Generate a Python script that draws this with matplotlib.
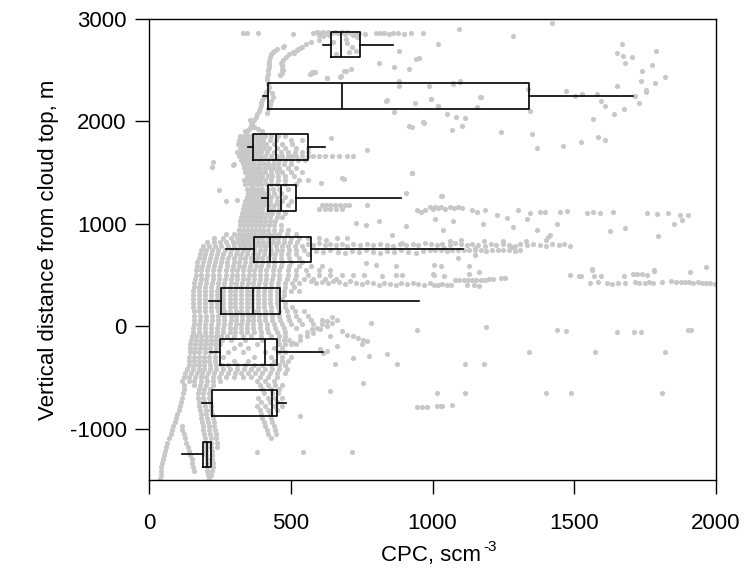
import matplotlib
matplotlib.use("Agg")
import matplotlib.pyplot as plt

plt.rcParams['font.family'] = ['Liberation Sans', 'DejaVu Sans']
plt.rcParams['axes.unicode_minus'] = False

# ---------------- box statistics per height bin (m) ----------------
bin_centers = [2750, 2250, 1750, 1250, 750, 250, -250, -750, -1250]
whisker_low = [612, 403, 348, 397, 273, 210, 215, 188, 117]
quart_low = [642, 421, 366, 421, 370, 255, 250, 223, 192]
medians = [677, 682, 447, 464, 428, 368, 410, 434, 206]
quart_high = [745, 1341, 562, 520, 572, 463, 452, 451, 219]
whisker_high = [859, 1707, 622, 890, 1109, 951, 615, 484, 219]

x_ticks = [0, 500, 1000, 1500, 2000]
y_ticks = [-1000, 0, 1000, 2000, 3000]

# ---------------- raw CPC samples (CPC, height) ----------------
row_heights = [1860, 1820, 1780, 1740, 1700, 1665, 1625, 1585, 1545, 1505, 1465, 1425,
               1385, 1345, 1305, 1265, 1225, 1185, 1145, 1105, 1065, 1025, 985, 945,
               905, 865, 825, 785, 745, 705, 665, 625, 585, 545, 505, 465, 425, 385,
               345, 305, 265, 225, 185, 145, 105, 65, 25, -15, -55, -95, -135, -175,
               -215, -255, -295, -335, -375, -415, -455, -495, -535, -575, -615, -655,
               -695, -735, -775, -815, -855, -895, -935, -975, -1015, -1055, -1095,
               -1135, -1175, -1215, -1255, -1295, -1335, -1375, -1415, -1455, -1490]
row_cpc = [
    [322, 334, 347, 360, 375, 392, 410, 432, 455, 480],
    [318, 330, 342, 356, 368, 384, 402, 425, 448, 500, 540],
    [315, 328, 340, 353, 366, 380, 396, 412, 440, 470, 505],
    [320, 332, 345, 358, 372, 388, 405, 422, 450, 480, 520, 560],
    [312, 325, 338, 350, 365, 380, 396, 415, 440, 465, 490, 515, 540, 562],
    [318, 330, 345, 360, 373, 390, 410, 430, 450, 470, 490, 505, 520, 540, 560, 580, 600, 620, 645, 670, 700, 718],
    [325, 340, 352, 368, 385, 400, 420, 440, 460, 480, 500, 525, 550],
    [300, 330, 345, 360, 372, 388, 405, 420, 438, 455, 475, 500],
    [335, 350, 362, 376, 390, 408, 425, 440, 460, 490, 520],
    [340, 352, 366, 380, 395, 410, 430, 450, 470, 500, 540],
    [345, 358, 372, 385, 400, 418, 435, 455, 480, 510],
    [335, 350, 362, 378, 392, 410, 430, 455, 480, 530, 560],
    [340, 355, 368, 382, 396, 412, 430, 450, 480, 520],
    [345, 358, 372, 386, 400, 418, 438, 460, 490],
    [350, 362, 376, 390, 405, 420, 440, 465],
    [345, 356, 370, 384, 398, 415, 432, 452, 480],
    [340, 352, 366, 380, 394, 410, 428, 450, 470, 500],
    [335, 348, 362, 376, 390, 405, 422, 440, 460, 490, 610, 625, 640, 655, 672, 690, 705],
    [330, 345, 358, 372, 386, 400, 418, 438, 460, 600, 620, 640, 660, 680],
    [328, 342, 356, 370, 384, 400, 416, 435, 455, 480],
    [325, 338, 352, 366, 380, 395, 410, 428, 450, 470],
    [322, 336, 350, 364, 378, 392, 408, 425, 445],
    [320, 334, 348, 362, 376, 390, 405, 422, 440, 465],
    [318, 332, 346, 360, 374, 388, 402, 420, 440, 465, 490],
    [270, 300, 318, 332, 346, 360, 374, 390, 405, 422, 440, 460, 485, 520],
    [230, 262, 290, 310, 325, 340, 355, 370, 385, 400, 418, 436, 455, 475, 500, 530, 560, 600],
    [205, 228, 250, 272, 295, 315, 333, 350, 367, 384, 402, 420, 438, 456, 476, 498, 522],
    [190, 210, 232, 255, 278, 300, 320, 338, 356, 374, 392, 410, 428, 448, 468, 490, 515, 540],
    [182, 200, 222, 245, 268, 290, 310, 330, 350, 370, 390, 410, 430, 450, 470, 495, 520, 545],
    [180, 198, 218, 240, 262, 285, 306, 326, 346, 366, 386, 406, 426, 446, 466, 490, 520, 560],
    [175, 195, 215, 236, 258, 280, 300, 320, 340, 360, 380, 400, 420, 440, 465, 495, 530],
    [170, 190, 210, 232, 254, 276, 298, 318, 338, 358, 378, 398, 420, 442, 470, 500, 540],
    [168, 188, 208, 230, 252, 274, 296, 316, 336, 356, 376, 396, 418, 440, 465, 495, 530, 570, 610],
    [165, 185, 205, 226, 248, 270, 292, 312, 332, 352, 372, 392, 414, 436, 460, 490, 520, 555, 600, 640],
    [165, 185, 205, 226, 248, 270, 292, 312, 332, 352, 372, 392, 414, 436, 460, 490, 520, 560, 600, 640, 680, 720, 760],
    [162, 182, 202, 224, 246, 268, 290, 310, 330, 350, 370, 390, 412, 434, 458, 485, 515, 545, 580, 620, 660],
    [160, 180, 200, 222, 244, 266, 288, 308, 328, 348, 368, 388, 410, 432, 456, 480, 505, 530],
    [158, 178, 198, 220, 242, 264, 286, 306, 326, 346, 366, 386, 408, 430, 455, 480, 510],
    [155, 175, 196, 218, 240, 262, 284, 304, 324, 344, 364, 384, 406, 428, 450, 475, 500, 530],
    [155, 175, 196, 218, 240, 262, 284, 304, 324, 344, 364, 384, 406, 428, 450, 475],
    [155, 175, 196, 218, 240, 262, 284, 304, 324, 344, 364, 384, 406, 428, 450, 470],
    [155, 175, 196, 218, 240, 262, 284, 304, 324, 344, 364, 384, 406, 428, 452, 478],
    [155, 175, 196, 218, 240, 262, 284, 304, 324, 344, 364, 384, 406, 430, 455, 480, 505],
    [158, 178, 198, 220, 242, 264, 286, 306, 326, 346, 366, 386, 408, 432, 458, 485, 515, 545],
    [160, 180, 200, 222, 244, 266, 288, 308, 328, 348, 368, 388, 410, 434, 460, 490, 520, 560],
    [160, 180, 200, 222, 244, 266, 288, 308, 328, 348, 368, 388, 410, 435, 462, 495, 530, 570, 610],
    [158, 178, 198, 220, 242, 264, 286, 306, 326, 346, 366, 390, 415, 440, 470, 500, 540, 580],
    [155, 175, 196, 218, 240, 262, 284, 304, 324, 344, 366, 390, 415, 445, 475, 520],
    [155, 175, 196, 218, 240, 262, 284, 304, 324, 346, 370, 395, 420, 450, 480],
    [150, 165, 182, 200, 218, 236, 254, 275, 300, 330, 360, 395, 430, 460, 480],
    [148, 165, 182, 200, 218, 236, 256, 290, 340, 400, 455, 475, 495],
    [145, 162, 180, 198, 216, 234, 252, 320, 380, 460, 480, 500, 520],
    [145, 162, 180, 198, 216, 236, 300, 350, 440, 470],
    [143, 160, 178, 196, 214, 234, 280, 330, 410, 460, 480],
    [140, 158, 176, 194, 212, 232, 260, 370, 430, 470, 500],
    [140, 158, 176, 194, 212, 232, 300, 350, 440, 470, 490],
    [140, 158, 176, 194, 214, 236, 258, 280, 310, 340, 370, 400, 430, 460, 480],
    [135, 155, 175, 195, 215, 238, 262, 286, 310, 335, 360, 385, 410, 435, 460, 485],
    [128, 148, 168, 188, 208, 230, 254, 278, 302, 326, 350, 375, 400, 425, 450, 480],
    [122, 142, 162, 182, 202, 224, 248, 272, 300, 330, 360, 390, 420, 450],
    [118, 140, 160, 182, 204, 226, 250, 380, 410, 440],
    [123, 158, 180, 202, 224, 390, 420, 445, 470],
    [122, 175, 195, 215, 400, 430, 460],
    [120, 172, 192, 212, 405, 435, 455],
    [118, 172, 192, 212, 385, 420, 445, 470],
    [112, 175, 195, 215, 395, 425, 450],
    [108, 178, 198, 218, 380, 410, 440, 470],
    [104, 180, 200, 220, 390, 420, 450],
    [100, 182, 202, 222, 395, 425],
    [95, 185, 205, 225, 400, 430],
    [90, 188, 208, 228, 405, 435],
    [85, 115, 190, 210, 230, 410, 440],
    [80, 118, 192, 212, 232, 415, 445],
    [76, 124, 195, 215, 235, 420, 448],
    [70, 128, 198, 218, 238, 430],
    [65, 132, 200, 220, 240],
    [60, 137, 200, 220, 240],
    [55, 141, 200, 222],
    [52, 145, 202, 222],
    [48, 150, 205, 222],
    [46, 153, 205, 224],
    [44, 156, 205, 224],
    [42, 159, 206, 222],
    [41, 208, 220],
    [40, 210],
]

top_trail = [(570, 2775), (555, 2752), (540, 2728), (525, 2705), (508, 2680), (494, 2655), (482, 2630),
             (472, 2600), (466, 2570), (470, 2540), (468, 2505), (470, 2470), (462, 2450), (441, 2690),
             (450, 2710), (476, 2740), (432, 2660), (426, 2626), (423, 2595), (424, 2560), (423, 2529),
             (420, 2500), (418, 2465), (417, 2431), (415, 2400), (420, 2365), (423, 2335), (418, 2310),
             (412, 2285), (408, 2260), (405, 2238), (400, 2210), (396, 2185), (394, 2160), (390, 2130),
             (388, 2100), (382, 2075), (376, 2045), (370, 2015), (364, 1990), (360, 1965), (356, 1940),
             (350, 1915), (345, 1895), (355, 2010), (362, 1980), (372, 1950), (384, 1925), (398, 1905),
             (340, 1905), (435, 2280), (437, 2240), (430, 2200), (425, 2160), (420, 2120), (415, 2080),
             (510, 2665), (522, 2700), (534, 2715), (474, 2730), (439, 2681), (468, 2551), (474, 2503),
             (462, 2454), (574, 2470), (586, 2486), (627, 2421), (674, 2438), (688, 2496)]

top_row = [(330, 2865), (345, 2860), (386, 2860), (509, 2858), (580, 2865), (592, 2875), (602, 2860),
           (612, 2870), (622, 2858), (632, 2872), (645, 2862), (655, 2875), (668, 2860), (680, 2870),
           (690, 2858), (700, 2872), (712, 2862), (725, 2868), (740, 2860), (762, 2858), (800, 2862),
           (815, 2860), (828, 2862), (845, 2858), (862, 2862), (878, 2860), (900, 2858), (925, 2860),
           (965, 2860), (600, 2840), (615, 2830), (635, 2845), (720, 2840), (735, 2820), (705, 2675),
           (717, 2724), (658, 2659), (694, 2805), (729, 2691), (600, 2800), (650, 2780), (700, 2770)]

upper_sparse = [(1092, 2900), (1283, 2836), (1422, 2958), (1020, 2758), (576, 2480), (567, 2464),
                (629, 2422), (678, 2441), (694, 2496), (711, 2513), (811, 2568), (864, 2535), (882, 2691),
                (917, 2513), (940, 2610), (952, 2617), (882, 2399), (880, 2350), (835, 2204), (864, 2090),
                (917, 1960), (929, 1944), (970, 1987), (994, 2220), (987, 2350), (838, 2210), (938, 2178),
                (1021, 2152), (1168, 2243), (968, 1999), (1071, 2373), (1097, 2389), (1668, 2760),
                (1652, 2669), (1673, 2636), (1704, 2626), (1680, 2568), (1790, 2685), (1773, 2552),
                (1739, 2496), (1819, 2435), (1786, 2379), (1737, 2392), (1752, 2311), (1753, 2285),
                (1650, 2350), (1714, 2246), (1728, 2181), (1674, 2123), (1641, 2068), (1567, 2022),
                (1608, 2146), (1596, 2204), (1580, 2272), (1527, 2266), (1504, 2246), (1472, 2295),
                (1336, 2321), (1344, 2100), (1171, 2240), (1157, 2142), (1098, 2396), (1072, 2363),
                (1050, 2068), (1084, 2045), (1113, 2029), (1104, 1957), (1069, 1921), (1242, 1899),
                (1350, 1879), (1370, 1736), (1459, 1762), (1524, 1795), (1585, 1850), (1607, 1817),
                (996, 2220), (1019, 2155)]

mid_sparse = [(223, 1560), (227, 1600), (247, 1333), (270, 1220), (309, 1236), (296, 1577), (641, 1837),
              (770, 1723), (929, 1496), (682, 1447), (688, 1440), (605, 1398), (927, 1499), (1032, 1268),
              (770, 1187), (905, 1301), (729, 1009), (764, 992), (811, 1025), (858, 895), (905, 976),
              (894, 813), (623, 846), (664, 862), (700, 862)]

streak_1100 = [(975, 1140), (990, 1160), (1000, 1150), (1010, 1165), (1020, 1155), (1030, 1162),
               (1045, 1150), (1060, 1160), (1075, 1158), (1090, 1162), (1105, 1155), (1138, 1132),
               (1156, 1115), (1185, 1132), (1226, 1083), (1262, 1060), (1303, 1132), (1344, 1106),
               (1379, 1115), (1397, 1115), (1450, 1115), (1473, 1122), (1544, 1106), (1567, 1115),
               (1591, 1106), (1638, 1115), (1755, 1109), (1791, 1099), (1832, 1106), (1873, 1090),
               (1902, 1083), (1879, 1041), (1850, 995), (1797, 882), (1679, 960), (1626, 927),
               (1438, 1002), (1414, 895), (1408, 870), (1367, 937), (1332, 1050), (1285, 970),
               (1179, 995), (1073, 1028), (1038, 937), (1009, 1050), (1030, 1272), (960, 1120), (945, 1135)]

streak_800 = [(560, 800), (580, 790), (600, 810), (620, 795), (640, 805), (660, 790), (680, 800),
              (700, 785), (720, 805), (745, 795), (770, 800), (790, 790), (815, 805), (840, 795),
              (860, 780), (885, 800), (905, 790), (930, 805), (950, 795), (975, 810), (995, 800),
              (1015, 790), (1035, 805), (1060, 795), (1080, 810), (1100, 800), (1120, 790), (1140, 805),
              (1160, 795), (1185, 785), (1205, 800), (1225, 790), (1250, 805), (1270, 795), (1290, 780),
              (1310, 800), (1335, 790), (1355, 805), (1380, 795), (1400, 780), (1420, 800), (1445, 790),
              (1465, 805), (1485, 780), (1062, 835), (1100, 840), (1180, 830), (1250, 835), (1330, 830),
              (1400, 840), (1040, 760), (1150, 765), (1280, 770), (590, 740), (615, 725), (640, 745),
              (665, 730), (690, 715), (715, 740), (740, 725), (765, 745), (790, 730), (815, 715),
              (840, 740), (865, 725), (890, 745), (915, 730), (940, 715), (965, 740), (990, 748),
              (1010, 742), (1030, 746), (1050, 740), (1070, 748), (1090, 744), (1110, 746), (1130, 742),
              (1150, 748), (1170, 745), (1190, 740), (1210, 746), (1230, 742), (1250, 748), (1270, 744),
              (1290, 740), (1310, 746)]

streak_450 = [(570, 440), (590, 425), (610, 435), (630, 420), (650, 445), (670, 430), (690, 415),
              (710, 440), (730, 425), (750, 410), (770, 430), (790, 420), (810, 405), (830, 425),
              (850, 415), (870, 400), (890, 420), (910, 410), (930, 425), (950, 415), (970, 405),
              (990, 420), (1005, 407), (1020, 405), (1035, 410), (1050, 405), (1065, 408), (1080, 455),
              (1095, 456), (1110, 450), (1125, 456), (1140, 455), (1155, 450), (1170, 456), (1185, 452),
              (1200, 458), (1215, 460), (1240, 470), (1255, 475), (1120, 407), (1145, 405), (1165, 398),
              (1005, 602), (1031, 586), (1130, 593), (1163, 534), (1001, 511), (1041, 495), (1128, 508),
              (1090, 670), (1150, 693), (870, 586), (870, 505), (894, 505), (1005, 505), (823, 488),
              (800, 602), (764, 618), (1485, 502), (1515, 490), (1525, 490), (1561, 563), (1561, 545),
              (1570, 490), (1596, 490), (1556, 424), (1585, 430), (1615, 424), (1632, 415), (1655, 424),
              (1680, 424), (1676, 495), (1708, 511), (1722, 510), (1740, 515), (1755, 500), (1781, 554),
              (1781, 540), (1715, 430), (1730, 424), (1748, 424), (1765, 430), (1778, 424), (1808, 430),
              (1840, 440), (1860, 430), (1875, 435), (1890, 430), (1905, 430), (1908, 534), (1920, 424),
              (1935, 430), (1950, 424), (1965, 420), (1980, 424), (1995, 418), (1964, 580)]

lower_sparse = [(647, 92), (627, 50), (609, 18), (592, -15), (574, -31), (556, -57), (533, -96),
                (680, -47), (697, -80), (721, -96), (738, -112), (756, -129), (768, -145), (750, -177),
                (638, -96), (662, -194), (627, -242), (783, 34), (944, -38), (656, -372), (721, -307),
                (777, -291), (838, -275), (874, -366), (755, -551), (640, -632), (533, -876), (381, -1227),
                (544, -1227), (716, -1227), (944, -785), (962, -785), (980, -785), (1032, -778),
                (1068, -772), (1017, -652), (1115, -652), (1399, -652), (1487, -652), (1811, -652),
                (1017, -782), (1031, -782), (1189, -9), (1438, -38), (1471, -44), (1650, -51),
                (1711, -51), (1734, -51), (1900, -38), (1912, -38), (1342, -255), (1574, -255),
                (1821, -255), (1115, -369), (1180, -369), (509, -161), (533, -129), (556, -96),
                (580, -64), (603, -31), (627, 1), (644, 34), (662, 66), (603, -226), (615, -259)]

# ---------------- build plot ----------------
fig = plt.figure(figsize=(7.44, 5.78), dpi=100)
ax = fig.add_axes([0.2003, 0.1696, 0.7621, 0.7975])

pts_x, pts_y = [], []
for h, xs in zip(row_heights, row_cpc):
    for v in xs:
        pts_x.append(v)
        pts_y.append(h)
for group in (top_trail, top_row, upper_sparse, mid_sparse, streak_1100, streak_800, streak_450, lower_sparse):
    for v, h in group:
        pts_x.append(v)
        pts_y.append(h)

ax.scatter(pts_x, pts_y, s=14, color='#c8c8c8', linewidths=0, zorder=1, clip_on=True)

stats = []
for lo, q1, md, q3, hi in zip(whisker_low, quart_low, medians, quart_high, whisker_high):
    stats.append({'whislo': lo, 'q1': q1, 'med': md, 'q3': q3, 'whishi': hi, 'fliers': []})

line_kw = dict(color='black', linewidth=1.2)
ax.bxp(stats, positions=bin_centers, widths=250, orientation='horizontal',
       showcaps=False, showfliers=False, manage_ticks=False,
       boxprops=line_kw, whiskerprops=line_kw, medianprops=line_kw)

ax.set_xlim(0, 2000)
ax.set_ylim(-1500, 3000)
ax.set_xticks(x_ticks)
ax.set_yticks(y_ticks)
ax.set_xticklabels([str(v) for v in x_ticks])
ax.set_yticklabels([str(v) for v in y_ticks])
ax.tick_params(direction='out', length=10, width=1.0, labelsize=16, color='black')
ax.tick_params(axis='y', pad=6)
ax.tick_params(axis='x', pad=14)
for sp in ax.spines.values():
    sp.set_linewidth(1.0)
    sp.set_color('black')

ax.set_ylabel('Vertical distance from cloud top, m', fontsize=16, labelpad=8)

# x label with a plain hyphen in the superscript
xl = fig.text(0.5796, 0.030, 'CPC, scm', fontsize=16, ha='center', va='baseline')
fig.canvas.draw()
bb = xl.get_window_extent(fig.canvas.get_renderer())
fig.text((bb.x1 + 2) / fig.bbox.width, 0.030 + 10 / fig.bbox.height, '-3',
         fontsize=11, ha='left', va='baseline')

fig.savefig('out.png', dpi=100)
